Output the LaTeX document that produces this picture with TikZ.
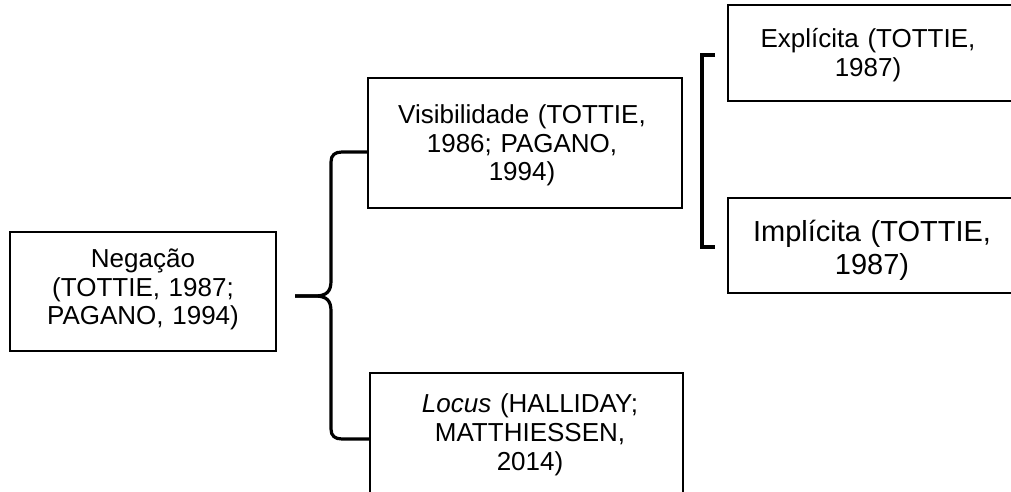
\documentclass[tikz,border=0pt]{standalone}
\usepackage{fontspec}
\setmainfont{Liberation Sans}
\begin{document}
\begin{tikzpicture}[x=0.75pt,y=-0.75pt,
  box/.style={draw=black, line width=1.6pt, inner sep=0pt},
  txt/.style={inner sep=0pt, align=center, anchor=base, text width=225pt,
    font=\fontsize{19.5}{21.75}\selectfont},
  bigtxt/.style={txt, font=\fontsize{21.75}{24.75}\selectfont},
  bracestyle/.style={draw=black, line width=2.4pt}
]
\useasboundingbox (0,0) rectangle (1011,492);
\clip (0,0) rectangle (1011,492);

% boxes
\node[box, minimum width=199.5pt, minimum height=89.25pt] (neg) at (143,291.5) {};
\node[box, minimum width=235.5pt, minimum height=97.5pt] (vis) at (525,143) {};
\node[box, minimum width=216pt, minimum height=72pt] (exp) at (872,53) {};
\node[box, minimum width=216pt, minimum height=71.25pt] (imp) at (872,245.5) {};
\node[box, minimum width=234.75pt, minimum height=110.25pt] (loc) at (526.5,446.5) {};

% texts
\node[txt] (negt) at (143,267) {Negação\\(TOTTIE, 1987;\\PAGANO, 1994)};
\node[txt] (vist) at (522,123) {Visibilidade (TOTTIE,\\1986; PAGANO,\\1994)};
\node[txt] (expt) at (868,48) {Explícita (TOTTIE,\\1987)};
\node[bigtxt] (impt) at (872,241) {Implícita (TOTTIE,\\1987)};
\node[txt] (loct) at (530,412) {\textit{Locus} (HALLIDAY;\\MATTHIESSEN,\\2014)};

% curly brace from Negação
\coordinate (tip) at (295,296);
\coordinate (vtop) at (368,152);
\coordinate (lend) at (369,439);
\draw[bracestyle] (vtop) -- (342,152) .. controls (335,152) and (331,155) .. (331,162)
  -- (331,281) .. controls (331,291) and (327,296) .. (315,296) -- (tip);
\draw[bracestyle] (tip) -- (315,296) .. controls (327,296) and (331,301) .. (331,311)
  -- (331,429) .. controls (331,436) and (335,439) .. (342,439) -- (lend);

% square bracket
\coordinate (sqtop) at (715,55);
\coordinate (sqbot) at (715,247);
\draw[bracestyle] (sqtop) -- (702,55) -- (702,247) -- (sqbot);
\end{tikzpicture}
\end{document}
